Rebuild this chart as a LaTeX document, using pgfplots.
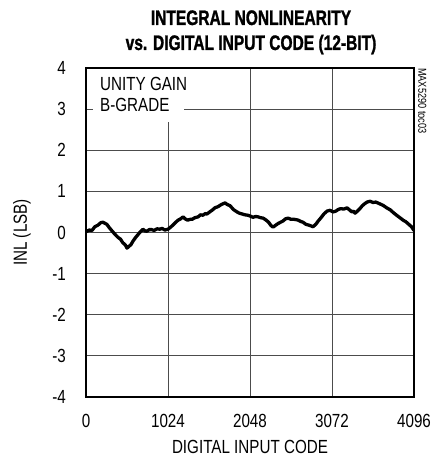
\documentclass[border=0pt]{standalone}
\usepackage{fontspec}
\setmainfont{Liberation Sans}[FakeStretch=0.8]
\newfontfamily\titlefont{Liberation Sans}[FakeStretch=0.74,FakeBold=1.2,UprightFont=* Bold]
\usepackage{pgfplots}
\pgfplotsset{compat=1.18}
\begin{document}
\begin{tikzpicture}
\path[use as bounding box] (-86pt,-63pt) rectangle (353pt,397pt);
\begin{axis}[
  at={(0pt,0pt)}, anchor=south west,
  scale only axis, width=328pt, height=329pt,
  xmin=0, xmax=4096, ymin=-4, ymax=4,
  xtick={0,1024,2048,3072,4096},
  ytick={-4,-3,-2,-1,0,1,2,3,4},
  grid=major,
  major grid style={line width=0.8pt, black!70},
  major tick length=0pt,
  axis line style={line width=2pt, black},
  /pgf/number format/assume math mode=true,
  /pgf/number format/set thousands separator={},
  tick label style={font=\fontsize{19}{21}\selectfont, inner sep=0pt},
  xticklabel style={anchor=base, yshift=-30pt},
  yticklabel style={anchor=east, xshift=-20pt},
  xlabel={DIGITAL INPUT CODE},
  ylabel={INL (LSB)},
  label style={font=\fontsize{19}{21}\selectfont, inner sep=0pt},
  xlabel style={at={(axis description cs:0.5,0)}, anchor=base, yshift=-56pt},
  ylabel style={at={([xshift=-64pt]axis description cs:0,0.5)}, anchor=center, rotate=0},
  clip=true,
]
\addplot[black, line width=3.3pt, line join=round] coordinates {
(0,0.02) (40,0.06) (75,0.05) (110,0.14) (150,0.18) (185,0.24) (212,0.25) (240,0.22) (260,0.2) (290,0.12) (320,0.05)
(360,-0.04) (400,-0.12) (430,-0.16) (460,-0.25) (490,-0.3) (512,-0.38) (540,-0.33) (560,-0.3) (590,-0.2) (620,-0.12)
(650,-0.05) (680,0.02) (712,0.08) (735,0.04) (760,0.03) (790,0.07) (820,0.07) (850,0.05) (887,0.09) (920,0.08)
(950,0.1) (985,0.06) (1024,0.08) (1050,0.12) (1080,0.17) (1110,0.23) (1150,0.3) (1180,0.33) (1212,0.38) (1240,0.33)
(1270,0.3) (1300,0.32) (1324,0.32) (1360,0.36) (1400,0.38) (1430,0.43) (1460,0.42) (1490,0.46) (1511,0.45) (1545,0.5)
(1580,0.55) (1610,0.6) (1650,0.63) (1690,0.68) (1736,0.72) (1765,0.68) (1800,0.65) (1840,0.56) (1886,0.5) (1915,0.47)
(1950,0.45) (1985,0.43) (2020,0.42) (2050,0.4) (2086,0.37) (2120,0.39) (2150,0.38) (2180,0.36) (2211,0.35) (2250,0.3)
(2280,0.25) (2310,0.17) (2336,0.13) (2370,0.18) (2400,0.22) (2430,0.25) (2460,0.28) (2490,0.33) (2523,0.35) (2560,0.32)
(2600,0.32) (2630,0.31) (2650,0.3) (2680,0.27) (2710,0.25) (2745,0.2) (2780,0.18) (2810,0.16) (2835,0.14) (2870,0.2)
(2900,0.28) (2935,0.36) (2970,0.45) (3010,0.52) (3048,0.54) (3085,0.5) (3120,0.52) (3150,0.56) (3180,0.58) (3220,0.57)
(3260,0.6) (3290,0.55) (3320,0.5) (3340,0.52) (3360,0.47) (3390,0.52) (3420,0.58) (3450,0.65) (3480,0.7) (3510,0.74)
(3547,0.76) (3585,0.73) (3620,0.74) (3665,0.7) (3710,0.66) (3755,0.6) (3800,0.55) (3840,0.48) (3885,0.41) (3920,0.36)
(3960,0.3) (3995,0.26) (4030,0.2) (4065,0.14) (4096,0.05)
};
\fill[white] (axis cs:87,4) rectangle (axis cs:1224,2.68);
\draw[black!70, line width=0.8pt] (axis cs:0,3) -- (axis cs:87,3);
\node[anchor=north west, align=left, inner sep=0pt, font=\fontsize{19}{21}\selectfont] at (axis cs:175,3.77) {UNITY GAIN\\B-GRADE};
\draw[line width=2pt] (rel axis cs:0,0) rectangle (rel axis cs:1,1);
\end{axis}
\node[rotate=-90, anchor=south west, inner sep=0pt, font=\fontsize{11.5}{12}\selectfont] at (332pt,329pt) {MAX5290 toc03};
\node[anchor=base, inner sep=0pt, font=\titlefont\fontsize{21}{25}\selectfont] at (165pt,372pt) {INTEGRAL NONLINEARITY};
\node[anchor=base, inner sep=0pt, font=\titlefont\fontsize{21}{25}\selectfont] at (165pt,347pt) {vs. DIGITAL INPUT CODE (12-BIT)};
\end{tikzpicture}
\end{document}
